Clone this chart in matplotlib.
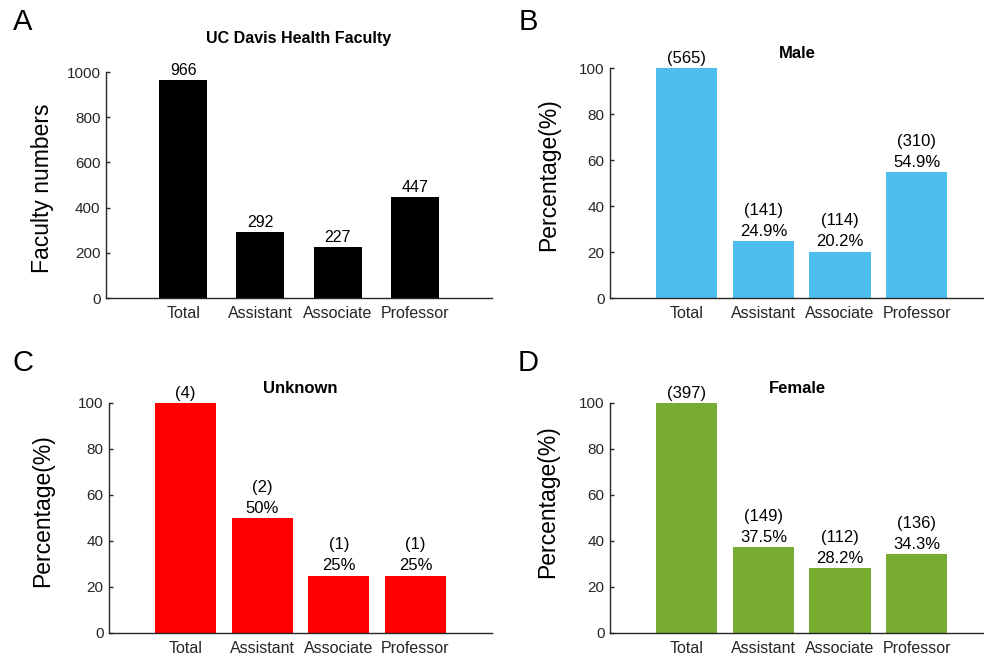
import matplotlib
matplotlib.use('Agg')
import matplotlib.pyplot as plt

plt.rcParams['font.family'] = ['Liberation Sans', 'DejaVu Sans']

# data
categories = ['Total', 'Assistant', 'Associate', 'Professor']
all_counts = [966, 292, 227, 447]

male_counts = [565, 141, 114, 310]
male_pct = [100, 24.9, 20.2, 54.9]

unknown_counts = [4, 2, 1, 1]
unknown_pct = [100, 50, 25, 25]

female_counts = [397, 149, 112, 136]
female_pct = [100, 37.5, 28.2, 34.3]

W, H = 984, 658
fig = plt.figure(figsize=(W / 100, H / 100), dpi=100)

axis_col = '#262626'


def px_axes(left, right, top, bottom):
    return fig.add_axes([left / W, 1 - bottom / H, (right - left) / W, (bottom - top) / H])


def style(ax):
    for s in ['top', 'right']:
        ax.spines[s].set_visible(False)
    for s in ['left', 'bottom']:
        ax.spines[s].set_color(axis_col)
        ax.spines[s].set_linewidth(1.0)
    ax.tick_params(axis='y', direction='in', length=3, width=1, colors=axis_col,
                   labelsize=11, pad=4)
    ax.tick_params(axis='x', length=0, colors=axis_col, labelsize=11.5, pad=6)
    ax.set_xticks(range(1, 5))
    ax.set_xticklabels(categories)


x = [1, 2, 3, 4]

# A
axA = px_axes(106, 492, 72, 298)
axA.bar(x, all_counts, width=0.62, color='black')
for xi, v in zip(x, all_counts):
    axA.annotate(str(v), (xi, v), xytext=(0, 1.5), textcoords='offset points',
                 ha='center', va='bottom', fontsize=11.5)
axA.set_xlim(0, 5)
axA.set_ylim(0, 1000)
axA.set_yticks(range(0, 1001, 200))
style(axA)
axA.set_title('UC Davis Health Faculty', fontsize=11.5, fontweight='bold', pad=21)


def pct_panel(ax, counts, pct, color, title, xmax):
    ax.bar(x, pct, width=0.8, color=color)
    for i, (xi, c, p) in enumerate(zip(x, counts, pct)):
        if i == 0:
            lab = '({})'.format(c)
        else:
            lab = '({})\n{:g}%'.format(c, p)
        ax.annotate(lab, (xi, p), xytext=(0, 1.5), textcoords='offset points',
                    ha='center', va='bottom', fontsize=12, linespacing=1.5)
    ax.set_xlim(0, xmax)
    ax.set_ylim(0, 100)
    ax.set_yticks(range(0, 101, 20))
    style(ax)
    ax.set_title(title, fontsize=12, fontweight='bold', pad=7)


axB = px_axes(610, 984, 68, 298)
pct_panel(axB, male_counts, male_pct, '#4DBEEE', 'Male', 4.876)

axC = px_axes(109, 492, 403, 633)
pct_panel(axC, unknown_counts, unknown_pct, '#FF0000', 'Unknown', 5.0)

axD = px_axes(610, 984, 403, 633)
pct_panel(axD, female_counts, female_pct, '#77AC30', 'Female', 4.876)

# y labels
fig.text(42.5 / W, 1 - 188 / H, 'Faculty numbers', rotation=90, ha='center', va='center', fontsize=16.5)
fig.text(549 / W, 1 - 175 / H, 'Percentage(%)', rotation=90, ha='center', va='center', fontsize=16.5)
fig.text(43 / W, 1 - 511 / H, 'Percentage(%)', rotation=90, ha='center', va='center', fontsize=16.5)
fig.text(547.5 / W, 1 - 502 / H, 'Percentage(%)', rotation=90, ha='center', va='center', fontsize=16.5)

# panel letters
for lab, px, py in [('A', 23, 22), ('B', 528, 22), ('C', 23, 363), ('D', 528, 363)]:
    fig.text(px / W, 1 - py / H, lab, ha='center', va='center', fontsize=21)

fig.savefig('out.png', dpi=100)
